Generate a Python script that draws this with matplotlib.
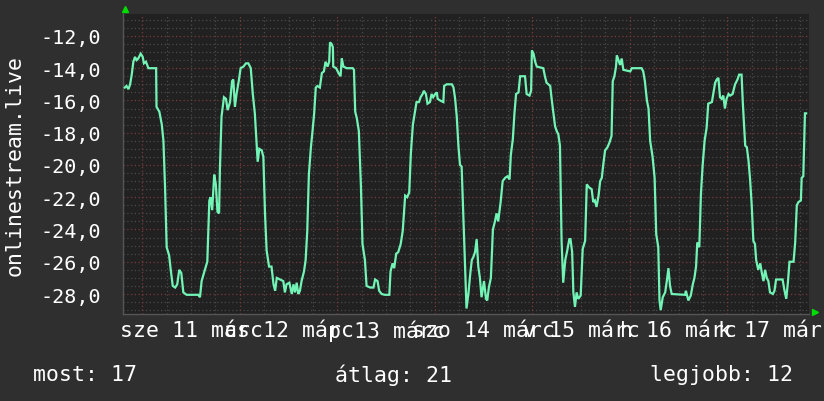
import matplotlib
matplotlib.use("Agg")
from matplotlib import pyplot as plt

# hours since 11 March 00:00, temperature readings
hours = [
    -4.3, -3.9, -3.4, -3.0, -2.6, -2.2, -1.8, -1.4, -1.0, -0.4, 0.1, 0.4, 0.9, 1.5, 3.4,
    3.5, 4.2, 4.8, 5.2, 5.6, 6.0, 6.6, 7.0, 7.5, 8.1, 8.6, 9.1, 9.6, 10.1, 10.9,
    13.8, 14.2, 14.6, 15.4, 16.0, 16.5, 16.8, 17.2, 17.7, 18.1, 18.5, 18.9, 19.1, 19.5, 20.1,
    20.6, 21.0, 21.6, 22.1, 22.4, 22.8, 23.2, 23.8, 24.2, 24.9, 25.5, 26.1, 26.7, 27.2, 27.7,
    28.2, 28.4, 28.8, 29.4, 29.8, 30.2, 30.6, 31.2, 31.8, 32.3, 32.7, 33.1, 33.9, 34.7, 35.1,
    35.5, 36.2, 36.8, 37.2, 37.6, 38.0, 38.4, 38.8, 39.2, 39.8, 40.2, 40.6, 41.0, 41.5, 41.9,
    42.3, 42.7, 43.1, 43.7, 44.2, 44.7, 45.1, 45.6, 46.0, 46.2, 46.6, 46.9, 47.0, 47.7, 48.3,
    48.8, 49.1, 49.5, 50.3, 51.8, 52.1, 52.4, 52.8, 53.3, 53.8, 54.2, 54.8, 55.2, 56.1, 56.9,
    57.3, 57.9, 58.3, 58.9, 59.7, 60.8, 61.1, 61.6, 62.0, 62.5, 63.0, 63.6, 64.1, 64.7, 65.2,
    65.7, 66.1, 66.6, 67.1, 67.5, 68.1, 68.5, 69.0, 69.3, 69.8, 70.2, 70.8, 71.2, 71.6, 72.1,
    72.5, 72.7, 73.3, 74.1, 74.3, 74.9, 76.2, 76.6, 77.0, 77.4, 77.8, 78.2, 78.6, 79.0, 79.4,
    79.8, 80.3, 80.7, 81.1, 81.5, 81.9, 82.3, 82.7, 83.1, 83.5, 84.1, 84.6, 84.9, 85.3, 85.8,
    86.3, 86.8, 87.2, 87.6, 88.2, 88.7, 89.3, 89.9, 90.4, 90.7, 91.2, 91.6, 92.0, 92.6, 93.0,
    94.2, 94.6, 95.3, 95.7, 95.9, 96.3, 96.7, 97.1, 98.7, 99.1, 99.5, 100.4, 100.8, 101.2, 101.6,
    102.0, 102.4, 102.8, 103.2, 103.6, 104.1, 104.6, 105.1, 105.4, 105.8, 106.1, 106.5, 106.9, 107.3, 107.9,
    108.4, 109.0, 109.4, 110.0, 110.6, 111.0, 111.4, 111.8, 112.3, 112.7, 113.1, 113.5, 113.9, 114.5, 115.0,
    115.5, 115.8, 116.2, 116.6, 116.8, 117.2, 117.6, 118.0, 118.4, 120.1, 120.5, 122.9, 123.3, 123.7, 124.2,
    124.6, 125.0, 125.6, 126.1, 126.5, 127.0, 127.3, 127.6, 128.1, 128.7, 129.1, 129.5, 129.9, 130.3, 133.6,
    133.8, 134.4, 135.0, 135.5, 135.9, 136.3, 136.6, 137.1, 137.5, 137.9, 138.4, 138.9, 139.3, 140.2, 140.6,
    141.0, 141.4, 141.8, 142.2, 142.6, 143.0, 143.4, 143.8, 144.3, 144.7, 145.3, 145.9, 146.5, 146.9, 147.5,
    147.8, 148.4, 148.8, 149.2, 149.6, 150.0, 150.4, 150.8, 151.1, 151.6, 152.1, 152.5, 152.9, 153.3, 153.7,
    154.1, 154.5, 155.2, 155.6, 156.0, 157.6, 158.0, 158.5, 158.9, 159.3, 160.3, 160.7, 161.1, 161.5, 162.1,
    162.3, 162.7, 163.1, 163.4,
]
temps = [
    -15.2, -15.1, -15.3, -15.0, -14.4, -13.6, -13.3, -13.5, -13.4, -13.1, -13.3, -13.7, -13.6, -14.0, -14.0,
    -16.4, -16.7, -17.5, -18.5, -21.4, -25.1, -25.6, -26.5, -27.5, -27.6, -27.4, -26.5, -26.7, -27.9, -28.05,
    -28.05, -28.2, -27.2, -26.5, -26.0, -22.2, -22.0, -22.8, -20.6, -21.2, -22.9, -23.0, -20.3, -17.0, -15.8,
    -15.9, -16.6, -16.1, -14.8, -14.7, -16.4, -15.6, -14.7, -14.0, -13.9, -13.7, -13.7, -14.0, -15.6, -16.8,
    -19.0, -19.8, -19.0, -19.1, -19.5, -23.0, -25.3, -26.3, -26.3, -27.4, -27.8, -27.0, -27.1, -27.2, -27.9,
    -27.4, -27.3, -28.0, -27.4, -27.9, -27.3, -28.0, -27.8, -27.2, -26.6, -25.9, -24.1, -20.6, -18.9, -17.9,
    -16.8, -15.2, -15.1, -15.2, -14.3, -14.2, -13.6, -13.9, -13.6, -12.4, -12.5, -12.7, -13.9, -14.0, -14.3,
    -14.5, -13.4, -13.9, -14.0, -14.0, -14.1, -16.7, -17.1, -17.9, -21.2, -24.9, -25.9, -27.5, -27.6, -27.6,
    -27.1, -27.2, -27.8, -28.0, -28.05, -28.05, -26.6, -26.1, -26.4, -25.5, -25.4, -24.9, -24.1, -21.9, -22.0,
    -21.7, -19.3, -17.5, -16.7, -16.1, -16.1, -15.8, -15.6, -15.4, -15.6, -16.2, -16.1, -15.6, -15.8, -15.6,
    -15.5, -15.9, -16.0, -16.1, -15.1, -15.0, -15.0, -15.2, -15.9, -17.0, -18.8, -20.0, -20.1, -23.0, -26.0,
    -28.9, -27.9, -26.8, -25.9, -25.7, -25.4, -24.6, -26.3, -27.0, -28.2, -27.2, -28.3, -28.4, -27.6, -27.0,
    -24.0, -23.5, -23.0, -23.5, -22.3, -21.0, -20.8, -20.7, -20.9, -19.4, -18.4, -16.8, -15.6, -15.5, -14.5,
    -14.5, -15.6, -15.7, -15.4, -12.9, -13.1, -13.6, -13.9, -14.0, -14.5, -14.9, -15.1, -16.0, -16.8, -17.6,
    -17.9, -18.1, -18.8, -24.7, -27.3, -25.9, -25.3, -24.6, -24.6, -25.4, -27.9, -28.8, -27.9, -28.3, -28.1,
    -25.2, -24.7, -21.2, -21.4, -21.5, -22.3, -22.2, -22.6, -21.9, -21.0, -20.8, -19.9, -19.1, -18.9, -18.6,
    -18.2, -14.8, -14.5, -13.9, -13.2, -13.5, -13.8, -13.4, -14.1, -14.2, -14.0, -14.0, -14.2, -14.8, -16.0,
    -16.5, -18.5, -19.5, -20.8, -24.3, -25.1, -28.4, -29.0, -28.2, -27.9, -27.2, -26.4, -27.5, -28.0, -28.05,
    -27.8, -28.4, -28.1, -27.4, -27.0, -26.3, -24.8, -25.1, -21.8, -20.1, -18.5, -17.7, -16.2, -16.1, -15.5,
    -14.9, -14.7, -14.6, -15.8, -15.9, -15.7, -16.5, -15.9, -15.6, -15.7, -15.6, -15.0, -14.7, -14.4, -14.4,
    -16.1, -18.8, -18.9, -19.7, -20.9, -22.5, -24.7, -24.9, -25.9, -26.5, -26.1, -26.7, -27.2, -26.5, -27.0,
    -27.2, -27.9, -28.0, -27.8, -27.1, -27.1, -27.7, -28.3, -27.3, -26.0, -26.0, -24.8, -22.5, -22.3, -22.2,
    -20.8, -20.7, -16.8, -16.8,
]

y_ticks = [-28, -26, -24, -22, -20, -18, -16, -14, -12]
day_labels = ["sze 11 márc", "cs 12 márc", "p 13 márc", "szo 14 márc",
              "v 15 márc", "h 16 márc", "k 17 márc"]
label_hours = [12, 36, 60, 84, 108, 132, 156]
summary = ["most: 17", "átlag: 21", "legjobb: 12"]
y_title = "onlinestream.live"

BG = "#2f2f2f"
PLOT_BG = "#212121"
LINE = "#72f4b6"
FONT = "DejaVu Sans Mono"
FS_Y = 14.5
FS = 15.5

fig = plt.figure(figsize=(8.24, 4.02), dpi=100, facecolor=BG)
ax = fig.add_axes([123 / 824, 87 / 402, 686 / 824, 300 / 402])
ax.set_facecolor(PLOT_BG)

x0, x1 = -4.75, 164.1
y0, y1 = -29.24, -10.64
ax.set_xlim(x0, x1)
ax.set_ylim(y0, y1)

# grid: minor every 0.5 / 6h (gray), major every 2 / midnight (red)
k = -58
while k * 0.5 <= y1:
    v = k * 0.5
    if v >= y0:
        major = (k % 4 == 0)
        ax.axhline(v, color="#7a3a3a" if major else "#4a4a4a", lw=0.9,
                   ls=(0, (1, 2)), zorder=1)
    k += 1
h = -6
while h <= x1:
    if h >= x0:
        major = (h % 24 == 0)
        ax.axvline(h, color="#7a3a3a" if major else "#4a4a4a", lw=0.9,
                   ls=(0, (1, 2)), zorder=1)
    h += 6

ax.plot(hours, temps, color=LINE, lw=1.6, zorder=3, solid_joinstyle="miter")

ax.set_yticks(y_ticks)
ax.set_yticklabels([f"{v:.1f}".replace(".", ",") for v in y_ticks],
                   fontsize=FS_Y, family=FONT)
ax.set_xticks(label_hours)
ax.set_xticklabels(day_labels, fontsize=FS, family=FONT)
ax.tick_params(axis="both", length=0, colors="white")
ax.tick_params(axis="x", pad=4)
ax.tick_params(axis="y", pad=16)

for s in ["top", "right"]:
    ax.spines[s].set_visible(False)
for s in ["left", "bottom"]:
    ax.spines[s].set_color("#555555")
    ax.spines[s].set_linewidth(1.0)

ax.plot([0.003], [1.017], marker="^", color="#00dd00", ms=5,
        transform=ax.transAxes, clip_on=False)
ax.plot([1.009], [0.007], marker=">", color="#00dd00", ms=5,
        transform=ax.transAxes, clip_on=False)

fig.text(15 / 824, 1 - 165 / 402, y_title, rotation=90, ha="center", va="center",
         color="white", fontsize=FS, family=FONT)
fig.text(33 / 824, 1 - 375 / 402, summary[0], ha="left", va="center",
         color="white", fontsize=FS, family=FONT)
fig.text(335 / 824, 1 - 375 / 402, summary[1], ha="left", va="center",
         color="white", fontsize=FS, family=FONT)
fig.text(793 / 824, 1 - 375 / 402, summary[2], ha="right", va="center",
         color="white", fontsize=FS, family=FONT)

fig.savefig("out.png", dpi=100, facecolor=BG)
